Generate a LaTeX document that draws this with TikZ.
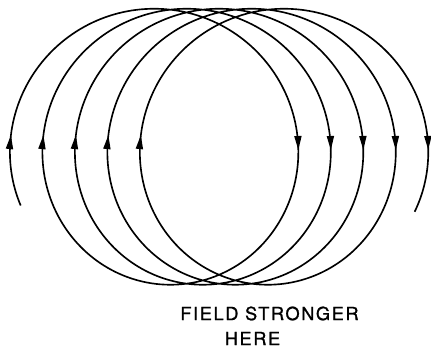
\documentclass[tikz,border=0pt]{standalone}
\usepackage{fontspec}
\newfontfamily\lettering[LetterSpace=9,FakeBold=1.2]{TeX Gyre Heros}
\usetikzlibrary{arrows.meta}
% field line: a looped trochoid, one loop per turn
\tikzset{declare function={fx(\t)=146+5.17*\t-136*cos(\t r); fy(\t)=202.25+138*sin(\t r);}}

\begin{document}
\begin{tikzpicture}[x=0.03cm,y=0.03cm,
    fieldline/.style={line width=1.4pt},
    fieldtip/.style={-{Triangle[length=12pt,width=6pt]},line width=1.4pt},
    lbl/.style={font={\fontsize{15.5pt}{18pt}\selectfont\lettering},inner sep=0pt}
  ]
    \useasboundingbox (0,0) rectangle (431,349);
    \draw[fieldline] plot[domain=-0.44:28.77,samples=900] ({fx(\x)},{fy(\x)});
    % arrows: up on the left side, down on the right side
    \foreach \n in {0,...,4}{
      \pgfmathsetmacro\aL{2*pi*\n+0.085}
      \pgfmathsetmacro\aR{2*pi*\n+pi+0.024}
      \coordinate (upL\n) at ({fx(\aL)},{fy(\aL)});
      \coordinate (dnR\n) at ({fx(\aR)},{fy(\aR)});
      \draw[fieldtip] ({fx(\aL-0.03)},{fy(\aL-0.03)}) -- (upL\n);
      \draw[fieldtip] ({fx(\aR-0.03)},{fy(\aR-0.03)}) -- (dnR\n);
    }
    \node[lbl] (field) at (269.5,35.5) {FIELD STRONGER};
    \node[lbl] (here) at (252.5,10.5) {HERE};
  \end{tikzpicture}
\end{document}
